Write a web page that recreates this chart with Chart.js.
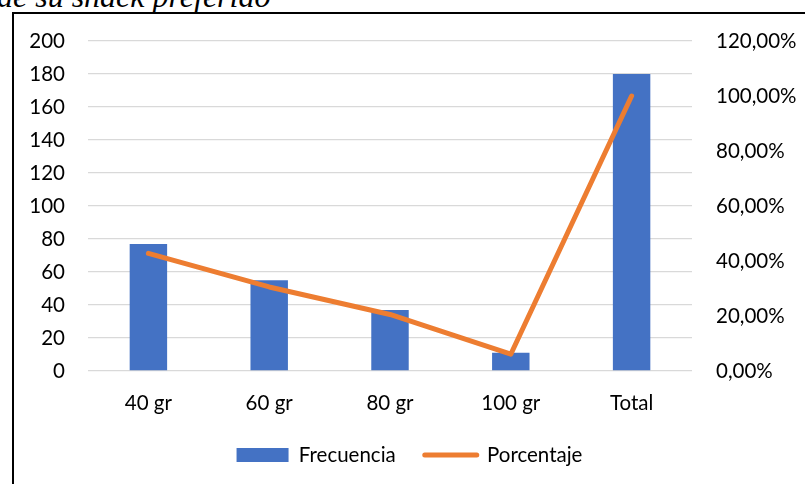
<!DOCTYPE html>
<html>
<head>
<meta charset="utf-8">
<script src="https://cdn.jsdelivr.net/npm/chart.js@4/dist/chart.umd.min.js"></script>
<style>
  html, body { margin: 0; padding: 0; background: #fff; }
  #wrap { position: relative; width: 805px; height: 484px; overflow: hidden; background: #fff; }
  #caption {
    position: absolute; left: -3px; top: -20px; margin: 0;
    font-family: "Liberation Serif", "Times New Roman", serif;
    font-style: italic; font-size: 32px; line-height: 32px; color: #000;
    white-space: nowrap;
  }
  #frame {
    position: absolute; left: 12px; top: 12px; width: 820px; height: 500px;
    border-left: 2px solid #000; border-top: 2px solid #000;
    box-sizing: border-box;
  }
  #chart { position: absolute; left: 0; top: 0; }
</style>
</head>
<body>
<div id="wrap">
  <div id="caption">de su snack preferido</div>
  <div id="frame"></div>
  <canvas id="chart" width="805" height="484"></canvas>
</div>
<script>
// Categories and series
const categories = ['40 gr', '60 gr', '80 gr', '100 gr', 'Total'];
const frecuencia = [77, 55, 37, 11, 180];
const porcentaje = [42.78, 30.56, 20.56, 6.11, 100];

// Axis ranges and tick spacing
const leftAxis = { min: 0, max: 200, step: 20 };
const rightAxis = { min: 0, max: 120, step: 20 };

const FONT = { family: 'Lato, "Open Sans", sans-serif', size: 20.5 };
const BLUE = '#4472C4';
const ORANGE = '#ED7D31';
const GRID = '#D9D9D9';

const fmtPct = v => v.toFixed(2).replace('.', ',') + '%';

new Chart(document.getElementById('chart'), {
  data: {
    labels: categories,
    datasets: [
      {
        type: 'line',
        label: 'Porcentaje',
        data: porcentaje,
        yAxisID: 'y1',
        borderColor: ORANGE,
        backgroundColor: ORANGE,
        borderWidth: 5,
        borderCapStyle: 'round',
        borderJoinStyle: 'round',
        pointRadius: 0,
        pointHoverRadius: 0,
        tension: 0,
        order: 0
      },
      {
        type: 'bar',
        label: 'Frecuencia',
        data: frecuencia,
        yAxisID: 'y',
        backgroundColor: BLUE,
        borderWidth: 0,
        categoryPercentage: 1,
        barPercentage: 0.31,
        order: 1
      }
    ]
  },
  options: {
    responsive: false,
    devicePixelRatio: 1,
    animation: false,
    layout: { padding: { left: 14, top: 41, right: 0, bottom: 8.75 } },
    plugins: {
      tooltip: { enabled: false },
      legend: {
        position: 'bottom',
        labels: {
          font: FONT,
          color: '#000',
          usePointStyle: true,
          pointStyleWidth: 52,
          boxHeight: 14,
          padding: 29,
          generateLabels(chart) {
            const order = [1, 0];
            return order.map(i => {
              const ds = chart.data.datasets[i];
              const isLine = ds.type === 'line';
              return {
                text: ds.label,
                datasetIndex: i,
                fillStyle: isLine ? ORANGE : BLUE,
                strokeStyle: isLine ? ORANGE : BLUE,
                lineWidth: isLine ? 5 : 0,
                lineCap: 'round',
                pointStyle: isLine ? 'line' : 'rect',
                fontColor: '#000',
                hidden: false
              };
            });
          }
        }
      }
    },
    scales: {
      x: {
        grid: { display: false, drawTicks: false },
        border: { display: false },
        ticks: { font: FONT, color: '#000', padding: 20, maxRotation: 0 },
        afterFit(scale) { scale.height = 44.75; }
      },
      y: {
        position: 'left',
        min: leftAxis.min,
        max: leftAxis.max,
        ticks: { stepSize: leftAxis.step, font: FONT, color: '#000', padding: 23 },
        grid: { color: GRID, lineWidth: 1.3, drawTicks: false },
        border: { display: false },
        afterFit(scale) { scale.width = 74; }
      },
      y1: {
        position: 'right',
        min: rightAxis.min,
        max: rightAxis.max,
        ticks: { stepSize: rightAxis.step, font: FONT, color: '#000', padding: 24, callback: v => fmtPct(v) },
        grid: { display: false, drawTicks: false },
        border: { display: false },
        afterFit(scale) { scale.width = 113; }
      }
    }
  }
});
</script>
</body>
</html>
